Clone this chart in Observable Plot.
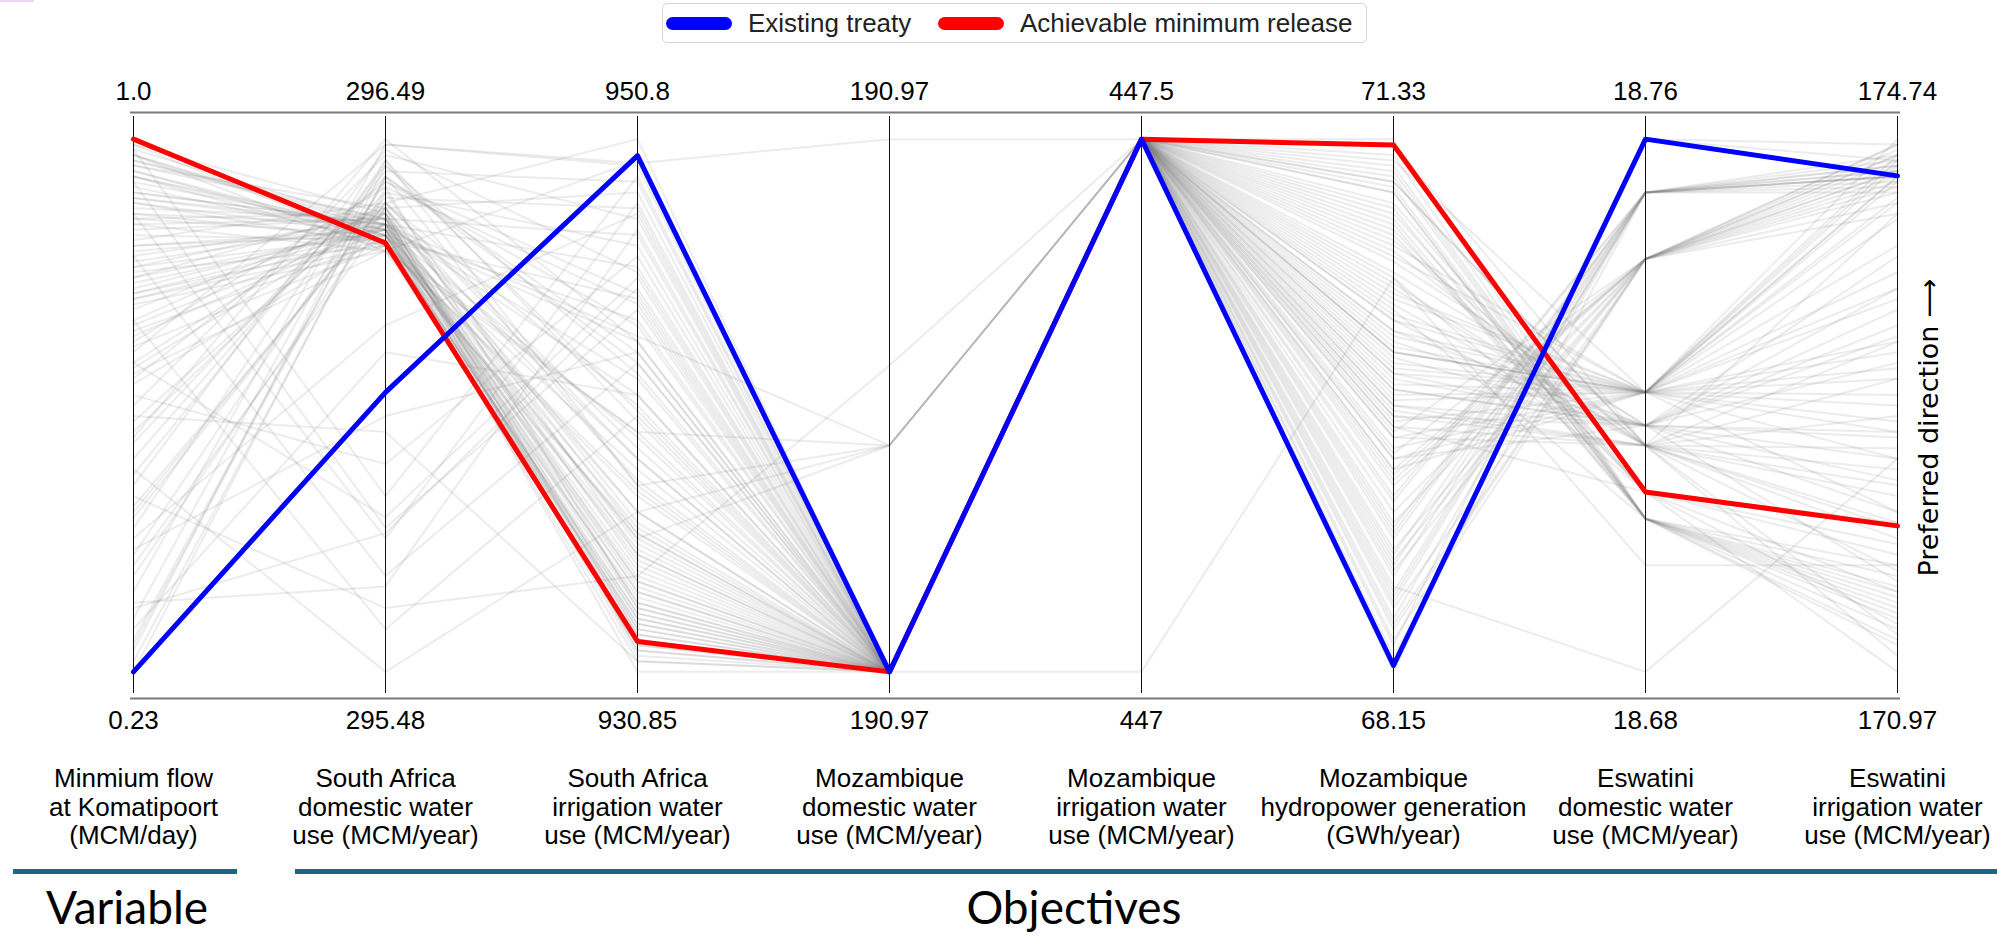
<!DOCTYPE html>
<html>
<head>
<meta charset="utf-8">
<script src="https://cdn.jsdelivr.net/npm/d3@7"></script>
<script src="https://cdn.jsdelivr.net/npm/@observablehq/plot@0.6"></script>
<style>
  html, body { margin: 0; padding: 0; background: #fff; }
  #wrap { position: relative; width: 1997px; height: 937px; overflow: hidden; font-family: "Liberation Sans", Arial, sans-serif; }
  #pink { position: absolute; left: 0; top: 0; width: 34px; height: 2px; background: #ead4f6; }
  #legend { position: relative; width: 1997px; height: 47px; }
  #legend .box { position: absolute; left: 662px; top: 3px; width: 703px; height: 38px; border: 1px solid #d6d6d6; border-radius: 5px; background: #fff; }
  #legend .sw { position: absolute; top: 13px; width: 66px; height: 13px; border-radius: 7px; }
  #legend .lab { position: absolute; top: 4px; font-size: 26px; line-height: 30px; color: #222; white-space: nowrap; }
  #chart svg { display: block; }
  #groups { position: relative; width: 1997px; height: 82px; }
  #groups .bar { position: absolute; top: 14px; height: 5px; background: #176b7e; }
  #groups .glab { position: absolute; top: 24px; font-family: Lato, "Open Sans", sans-serif; font-size: 46px; line-height: 56px; color: #000; white-space: nowrap; transform: translateX(-50%); }
</style>
</head>
<body>
<div id="wrap">
  <div id="pink"></div>
  <div id="legend">
    <div class="box">
      <span class="sw" style="left:3px;background:#0000ff"></span>
      <span class="lab" style="left:85px">Existing treaty</span>
      <span class="sw" style="left:275px;background:#ff0000"></span>
      <span class="lab" style="left:357px">Achievable minimum release</span>
    </div>
  </div>
  <div id="chart"></div>
  <div id="groups">
    <div class="bar" style="left:13px;width:224px"></div>
    <div class="bar" style="left:295px;width:1702px"></div>
    <div class="glab" style="left:127px">Variable</div>
    <div class="glab" style="left:1074px">Objectives</div>
  </div>
</div>
<script>
// ---------------- data ----------------
const dimKeys = ["minFlow", "saDomestic", "saIrrigation", "mzDomestic", "mzIrrigation", "mzHydropower", "swDomestic", "swIrrigation"];

const axisTitles = [
  "Minmium flow\nat Komatipoort\n(MCM/day)",
  "South Africa\ndomestic water\nuse (MCM/year)",
  "South Africa\nirrigation water\nuse (MCM/year)",
  "Mozambique\ndomestic water\nuse (MCM/year)",
  "Mozambique\nirrigation water\nuse (MCM/year)",
  "Mozambique\nhydropower generation\n(GWh/year)",
  "Eswatini\ndomestic water\nuse (MCM/year)",
  "Eswatini\nirrigation water\nuse (MCM/year)"
];

const topTickLabels    = ["1.0", "296.49", "950.8", "190.97", "447.5", "71.33", "18.76", "174.74"];
const bottomTickLabels = ["0.23", "295.48", "930.85", "190.97", "447", "68.15", "18.68", "170.97"];

const seriesNames = ["Existing treaty", "Achievable minimum release"];

// highlighted solutions (same order as dimKeys)
const existingTreaty           = [0.230, 296.010, 950.18, 190.966, 447.5, 68.188, 18.760, 174.480];
const achievableMinimumRelease = [1.000, 296.293, 931.99, 190.966, 447.5, 71.295, 18.707, 172.003];

// other Pareto solutions (grey)
const otherSolutions = [
  [0.977, 296.318, 933.24, 190.966, 447.5, 71.076, 18.714, 173.044],
  [0.946, 296.308, 932.45, 190.966, 447.5, 70.853, 18.703, 171.536],
  [0.923, 296.328, 933.84, 190.966, 447.5, 70.694, 18.722, 173.609],
  [0.908, 296.288, 931.85, 190.966, 447.5, 71.171, 18.703, 171.422],
  [0.885, 296.349, 934.84, 190.966, 447.5, 70.535, 18.717, 172.667],
  [0.861, 296.298, 932.85, 190.966, 447.5, 70.376, 18.722, 174.476],
  [0.838, 296.318, 935.84, 190.966, 447.5, 70.249, 18.714, 173.307],
  [0.962, 296.339, 931.45, 190.966, 447.5, 71.235, 18.703, 171.159],
  [0.815, 296.308, 934.44, 190.966, 447.5, 69.994, 18.722, 174.589],
  [0.784, 296.328, 936.84, 190.966, 447.5, 70.122, 18.717, 172.101],
  [0.992, 296.288, 933.64, 190.966, 447.5, 70.948, 18.707, 171.799],
  [0.754, 296.349, 932.25, 190.966, 447.5, 69.804, 18.722, 174.288],
  [0.969, 296.328, 941.82, 190.966, 447.5, 69.581, 18.742, 174.552],
  [0.931, 296.298, 944.82, 190.966, 447.5, 69.422, 18.722, 173.232],
  [0.900, 296.339, 947.21, 190.966, 447.5, 69.199, 18.752, 174.476],
  [0.877, 296.278, 939.83, 190.966, 447.5, 69.740, 18.714, 172.290],
  [0.846, 296.318, 943.22, 190.966, 447.5, 69.040, 18.742, 174.665],
  [0.800, 296.359, 948.81, 190.966, 447.5, 69.899, 18.717, 173.911],
  [0.769, 296.308, 938.43, 190.966, 447.5, 70.058, 18.722, 172.855],
  [0.731, 296.328, 946.01, 190.966, 447.5, 68.850, 18.752, 174.438],
  [0.692, 296.480, 949.90, 190.974, 447.5, 70.630, 18.722, 172.478],
  [0.654, 296.409, 943.82, 190.966, 447.5, 69.263, 18.742, 174.401],
  [0.615, 296.460, 947.81, 190.966, 447.5, 68.722, 18.752, 174.514],
  [0.577, 296.389, 935.24, 190.966, 447.5, 69.676, 18.714, 171.913],
  [0.538, 296.429, 949.20, 190.966, 447.5, 68.532, 18.742, 174.702],
  [0.677, 296.369, 940.83, 190.966, 447.5, 69.486, 18.722, 173.684],
  [0.500, 296.470, 945.81, 190.966, 447.5, 68.945, 18.752, 174.363],
  [0.707, 296.399, 933.24, 190.966, 447.5, 70.312, 18.703, 171.649],
  [0.461, 296.369, 938.83, 190.966, 447.5, 68.627, 18.752, 174.476],
  [0.453, 296.369, 939.23, 190.966, 447.5, 68.595, 18.752, 174.476],
  [0.469, 296.359, 936.44, 190.966, 447.5, 69.104, 18.742, 174.589],
  [0.276, 296.419, 942.82, 190.966, 447.5, 68.404, 18.742, 174.627],
  [0.269, 296.419, 942.42, 190.966, 447.5, 68.436, 18.742, 174.627],
  [0.307, 296.450, 937.83, 190.966, 447.5, 68.786, 18.752, 174.401],
  [0.245, 296.389, 946.81, 190.966, 447.5, 68.309, 18.760, 174.702],
  [0.346, 296.480, 949.80, 190.966, 447.5, 68.245, 18.752, 174.514],
  [0.384, 296.339, 934.24, 190.966, 447.5, 69.358, 18.722, 174.175],
  [0.938, 295.753, 944.42, 190.966, 447.5, 71.012, 18.703, 171.347],
  [0.892, 295.733, 948.41, 190.966, 447.5, 70.758, 18.707, 172.026],
  [0.831, 295.662, 942.42, 190.966, 447.5, 70.471, 18.714, 172.553],
  [0.985, 295.813, 949.40, 190.966, 447.5, 71.330, 18.703, 171.272],
  [0.738, 295.561, 940.43, 190.966, 447.5, 70.185, 18.717, 173.421],
  [0.630, 295.874, 946.41, 190.966, 447.5, 69.963, 18.722, 173.044],
  [0.523, 295.480, 936.84, 190.966, 447.5, 69.613, 18.714, 172.403],
  [0.423, 296.137, 948.01, 190.966, 447.5, 69.295, 18.742, 174.288],
  [0.322, 295.743, 945.21, 190.966, 447.5, 68.977, 18.752, 174.589],
  [0.292, 296.086, 941.22, 190.966, 447.5, 69.549, 18.722, 172.101],
  [0.915, 296.328, 943.42, 190.9694, 447.5, 69.867, 18.722, 174.438],
  [0.808, 296.288, 939.83, 190.9694, 447.5, 69.740, 18.717, 173.157],
  [0.669, 296.349, 936.84, 190.9694, 447.5, 69.645, 18.722, 174.476],
  [0.954, 296.308, 935.84, 190.9694, 447.5, 69.549, 18.714, 172.780],
  [0.561, 296.419, 937.83, 190.9694, 447.5, 69.422, 18.717, 173.534],
  [0.484, 295.601, 934.44, 190.9706, 447.5, 70.058, 18.722, 172.930],
  [0.600, 295.935, 931.25, 190.966, 447.0, 70.503, 18.696, 171.724],
  [0.977, 296.278, 932.65, 190.966, 447.5, 71.107, 18.703, 171.498],
  [0.869, 296.339, 931.65, 190.966, 447.5, 70.917, 18.703, 171.385],
  [0.777, 296.318, 933.44, 190.966, 447.5, 70.789, 18.707, 171.875],
  [0.992, 296.349, 932.05, 190.966, 447.5, 71.298, 18.714, 172.214],
  [0.723, 296.298, 935.24, 190.966, 447.5, 70.599, 18.717, 171.611],
  [0.923, 296.328, 934.04, 190.966, 447.5, 70.408, 18.722, 172.742],
  [0.646, 296.308, 944.02, 190.966, 447.5, 68.468, 18.752, 174.476],
  [0.592, 296.379, 948.21, 190.966, 447.5, 68.341, 18.742, 174.438],
  [0.438, 296.450, 940.23, 190.966, 447.5, 68.881, 18.742, 174.212],
  [0.369, 296.359, 936.04, 190.966, 447.5, 69.168, 18.752, 174.552],
  [0.230, 296.399, 944.62, 190.966, 447.5, 68.150, 18.760, 174.589],
  [0.854, 296.369, 950.80, 190.966, 447.5, 70.153, 18.722, 173.986],
  [0.761, 296.278, 950.00, 190.966, 447.5, 69.931, 18.717, 172.478],
  [0.792, 296.318, 930.85, 190.966, 447.5, 70.344, 18.714, 171.083],
  [0.700, 296.288, 937.43, 190.966, 447.5, 69.772, 18.722, 173.798],
  [0.969, 296.339, 938.83, 190.966, 447.5, 69.358, 18.742, 174.363],
  [0.569, 296.490, 943.22, 190.966, 447.5, 69.009, 18.752, 174.627],
  [0.407, 295.965, 942.82, 190.966, 447.5, 68.659, 18.680, 172.478],
  [0.885, 296.308, 933.04, 190.966, 447.5, 70.058, 18.722, 174.740],
  [0.823, 296.328, 936.24, 190.966, 447.5, 69.613, 18.707, 170.970],
  [0.946, 296.318, 934.64, 190.966, 447.5, 71.203, 18.722, 173.307],
  [0.892, 296.298, 932.65, 190.966, 447.5, 71.044, 18.703, 171.724],
  [0.831, 296.339, 935.64, 190.966, 447.5, 70.281, 18.722, 172.667],
  [0.769, 296.288, 933.04, 190.966, 447.5, 69.835, 18.717, 173.684],
  [0.962, 296.359, 938.03, 190.966, 447.5, 70.885, 18.707, 171.536],
  [0.715, 296.328, 932.05, 190.966, 447.5, 69.708, 18.714, 174.212],
  [0.515, 296.440, 942.02, 190.966, 447.5, 68.754, 18.742, 174.514],
  [0.908, 296.308, 931.25, 190.966, 447.5, 70.821, 18.703, 171.196],
  [0.677, 295.773, 945.61, 190.966, 447.5, 70.440, 18.714, 172.026],
  [0.938, 296.318, 939.63, 190.966, 447.5, 70.090, 18.722, 174.552],
  [0.330, 295.642, 947.41, 190.966, 447.5, 69.454, 18.742, 174.702],
  [0.954, 296.298, 932.85, 190.966, 447.5, 71.012, 18.703, 171.460],
  [0.915, 296.318, 935.04, 190.966, 447.5, 70.726, 18.714, 171.686],
  [0.877, 296.339, 932.25, 190.966, 447.5, 70.503, 18.707, 171.309],
  [0.846, 296.308, 933.84, 190.966, 447.5, 70.185, 18.722, 173.119],
  [0.815, 296.349, 931.65, 190.966, 447.5, 70.026, 18.717, 172.327],
  [0.985, 296.328, 933.44, 190.966, 447.5, 71.139, 18.703, 171.573],
  [0.777, 296.298, 935.44, 190.966, 447.5, 69.931, 18.722, 174.325],
  [0.738, 296.359, 932.45, 190.966, 447.5, 70.662, 18.714, 171.988],
  [0.946, 296.288, 937.63, 190.966, 447.5, 69.676, 18.717, 173.345],
  [0.892, 296.328, 941.22, 190.966, 447.5, 69.327, 18.742, 174.514],
  [0.399, 296.409, 945.01, 190.966, 447.5, 68.563, 18.752, 174.552],
  [0.261, 296.440, 940.63, 190.966, 447.5, 68.818, 18.742, 174.476],
  [0.977, 296.308, 934.24, 190.966, 447.5, 70.249, 18.722, 174.627],
  [0.800, 296.318, 931.85, 190.966, 447.5, 71.076, 18.714, 171.234],
  [0.661, 296.278, 936.04, 190.966, 447.5, 69.835, 18.717, 172.629]
];

// ---------------- normalisation (each axis scaled to its own min..max) ----------------
const allSolutions = [...otherSolutions, existingTreaty, achievableMinimumRelease];
const extents = dimKeys.map((_, j) => d3.extent(allSolutions, s => s[j]));
const norm = (j, v) => {
  const [lo, hi] = extents[j];
  return hi === lo ? 0 : (v - lo) / (hi - lo);
};
const toRows = (vals, id) => dimKeys.map((k, j) => ({id, dim: k, v: norm(j, vals[j])}));

const greyRows = otherSolutions.flatMap((vals, i) => toRows(vals, "s" + i));
const treatyRows = toRows(existingTreaty, seriesNames[0]);
const releaseRows = toRows(achievableMinimumRelease, seriesNames[1]);

const FONT = '"Liberation Sans", Arial, sans-serif';

const chart = Plot.plot({
  width: 1997,
  height: 808,
  marginTop: 65,
  marginBottom: 157,
  marginLeft: 130,
  marginRight: 97,
  x: {type: "point", domain: dimKeys, padding: 0, axis: null},
  y: {domain: [-0.05, 1.05], axis: null},
  style: {fontFamily: FONT, background: "transparent", overflow: "visible", color: "#000"},
  marks: [
    Plot.line(greyRows, {x: "dim", y: "v", z: "id", stroke: "#808080", strokeOpacity: 0.15, strokeWidth: 2}),
    Plot.ruleY([-0.05, 1.05], {stroke: "#7a7a7a", strokeWidth: 2}),
    Plot.ruleX(dimKeys, {x: d => d, y1: -0.05, y2: 1.05, stroke: "#111", strokeWidth: 1, insetTop: -5, insetBottom: -4}),
    Plot.line(releaseRows, {x: "dim", y: "v", stroke: "#ff0000", strokeWidth: 5, strokeLinejoin: "round"}),
    Plot.line(treatyRows, {x: "dim", y: "v", stroke: "#0000ff", strokeWidth: 5, strokeLinejoin: "round"}),
    Plot.text(dimKeys, {x: d => d, y: () => 1.05, text: (d, i) => topTickLabels[i], dy: -21, fontSize: 26, lineAnchor: "middle", fill: "#000"}),
    Plot.text(dimKeys, {x: d => d, y: () => -0.05, text: (d, i) => bottomTickLabels[i], dy: 22, fontSize: 26, lineAnchor: "middle", fill: "#000"}),
    Plot.text(dimKeys, {x: d => d, frameAnchor: "bottom", text: (d, i) => axisTitles[i], dy: 108, fontSize: 26, lineHeight: 1.1, lineAnchor: "middle", fill: "#000"}),
    Plot.text(["Preferred direction \u27F6"], {frameAnchor: "right", text: d => d, dx: 29, dy: 22, rotate: -90, textAnchor: "middle", lineAnchor: "middle", fontSize: 27, fontFamily: "DejaVu Sans", fill: "#000"})
  ]
});

document.getElementById("chart").appendChild(chart);
</script>
</body>
</html>
